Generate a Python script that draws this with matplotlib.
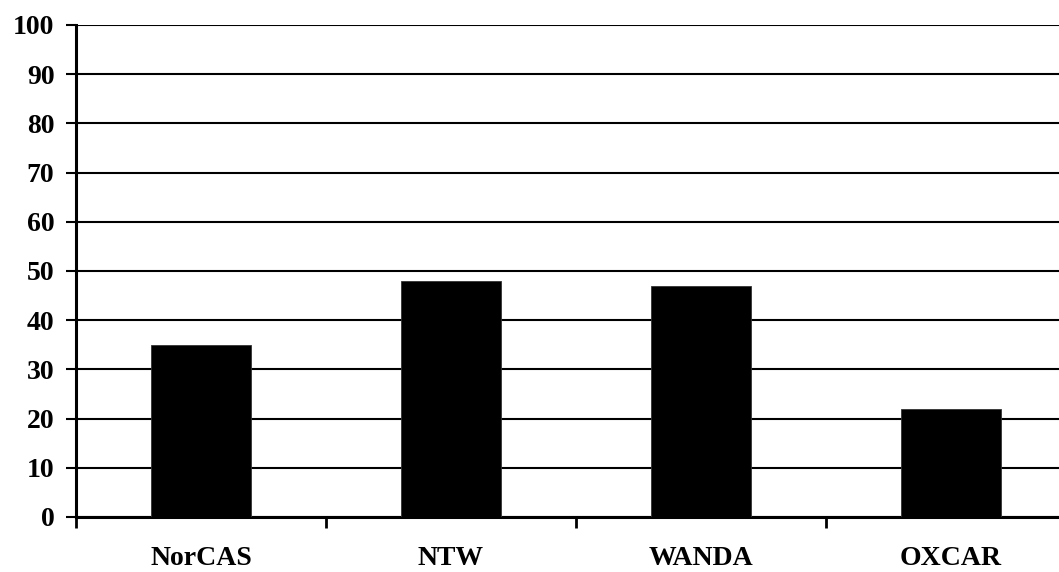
import numpy as np
import matplotlib.pyplot as plt
from matplotlib.ticker import FixedLocator

categories = ['NorCAS', 'NTW', 'WANDA', 'OXCAR']
values = [35, 48, 47, 22]
y_ticks = list(range(0, 101, 10))

plt.rcParams['font.family'] = 'Liberation Serif'
plt.rcParams['font.weight'] = 'bold'

fig = plt.figure(figsize=(10.59, 5.72), dpi=100)
ax = fig.add_axes([76 / 1059, 55 / 572, 1000 / 1059, 492 / 572])

x = np.arange(len(categories))
ax.bar(x, values, width=0.4, color='black', edgecolor='#333333',
       linewidth=0.6, zorder=3)

ax.set_xlim(-0.5, len(categories) - 0.5)
ax.set_ylim(0, 100)
ax.set_yticks(y_ticks)
ax.set_yticklabels([str(t) for t in y_ticks], fontsize=20, fontweight='bold')

# category labels sit between the boundary ticks
ax.set_xticks(x)
ax.set_xticklabels(categories, fontsize=20, fontweight='bold')
ax.tick_params(axis='x', which='major', length=0, pad=21)
ax.xaxis.set_minor_locator(FixedLocator(np.arange(-0.5, len(categories), 1.0)))
ax.tick_params(axis='x', which='minor', length=8, width=2, direction='out')
ax.tick_params(axis='y', length=7.5, width=1.5, direction='out', pad=8)

ax.grid(axis='y', color='black', linewidth=1.5, zorder=1)
ax.set_axisbelow(True)

ax.spines['top'].set_visible(False)
ax.spines['right'].set_visible(False)
ax.spines['left'].set_linewidth(2.2)
ax.spines['bottom'].set_linewidth(2.2)

fig.savefig('out.png', dpi=100)
